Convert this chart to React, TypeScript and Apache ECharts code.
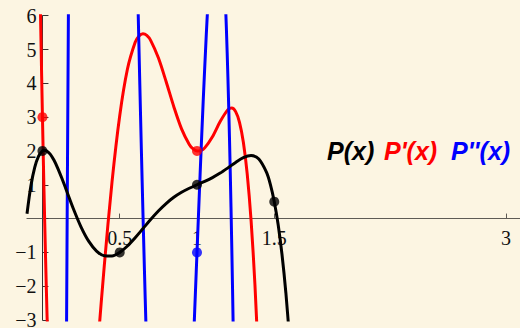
import React, { useEffect, useRef } from "react";
import * as echarts from "echarts";

// P(x)
const pCurve: [number, number][] = [
  [-0.1, 0.144], [-0.075, 0.963], [-0.05, 1.516], [-0.025, 1.848], [0, 2.0],
  [0.0125, 2.02], [0.025, 2.009], [0.05, 1.907], [0.075, 1.723], [0.1, 1.48],
  [0.125, 1.199], [0.15, 0.898], [0.2, 0.292], [0.25, -0.25], [0.3, -0.675],
  [0.35, -0.96], [0.4, -1.099], [0.45, -1.105], [0.5, -1.0], [0.55, -0.811],
  [0.6, -0.568], [0.65, -0.299], [0.7, -0.029], [0.75, 0.223], [0.8, 0.444],
  [0.85, 0.628], [0.9, 0.776], [0.95, 0.896], [1.0, 1.0], [1.05, 1.101],
  [1.1, 1.213], [1.15, 1.345], [1.2, 1.499], [1.25, 1.661], [1.3, 1.801],
  [1.35, 1.863], [1.4, 1.759], [1.45, 1.363], [1.475, 1.003], [1.5, 0.5],
  [1.525, -0.177], [1.55, -1.062], [1.575, -2.194], [1.6, -3.618],
];

// P'(x), two visible pieces
const dpCurveLeft: [number, number][] = [
  [-0.02, 8.02], [-0.01, 5.39], [0, 3.0], [0.01, 0.82], [0.02, -1.14], [0.03, -2.91], [0.04, -4.5],
];
const dpCurveRight: [number, number][] = [
  [0.35, -4.223], [0.36, -3.64], [0.4, -1.397], [0.45, 1.077], [0.5, 3.042],
  [0.55, 4.422], [0.6, 5.213], [0.625, 5.402], [0.65, 5.465], [0.675, 5.417],
  [0.7, 5.271], [0.75, 4.754], [0.8, 4.053], [0.85, 3.309], [0.9, 2.654],
  [0.95, 2.194], [0.975, 2.061], [1.0, 2.0], [1.025, 2.011], [1.05, 2.091],
  [1.1, 2.421], [1.15, 2.869], [1.2, 3.222], [1.225, 3.268], [1.25, 3.163],
  [1.275, 2.848], [1.3, 2.257], [1.325, 1.315], [1.35, -0.061], [1.375, -1.964],
  [1.4, -4.499],
];

// P''(x), four visible pieces
const d2pCurve1: [number, number][] = [[0.15, -8.12], [0.16, 0.085], [0.17, 7.633]];
const d2pCurve2: [number, number][] = [
  [0.61, 8.039], [0.62, 5.966], [0.63, 3.965], [0.64, 2.044], [0.65, 0.207],
  [0.66, -1.541], [0.67, -3.195], [0.68, -4.752],
];
const d2pCurve3: [number, number][] = [
  [0.97, -4.47], [0.98, -3.322], [0.99, -2.162], [1.0, -1.0], [1.02, 1.291],
  [1.04, 3.465], [1.06, 5.432], [1.07, 6.306],
];
const d2pCurve4: [number, number][] = [
  [1.17, 7.75], [1.18, 6.827], [1.19, 5.643], [1.2, 4.179], [1.21, 2.417],
  [1.22, 0.338], [1.23, -2.076], [1.24, -4.847],
];

// marked points
const pPoints: [number, number][] = [[0, 2], [0.5, -1], [1, 1], [1.5, 0.5]];
const dpPoints: [number, number][] = [[0, 3], [1, 2]];
const d2pPoints: [number, number][] = [[1, -1]];

const xTickValues = [0.5, 1, 1.5, 3];
const yTickValues = [-3, -2, -1, 1, 2, 3, 4, 5, 6];
const legendLabels = ["P(x)", "P'(x)", "P''(x)"];
const legendColors = ["#000000", "#ff0000", "#0000ff"];

const BLACK = "#000000";
const RED = "#ff0000";
const BLUE = "#0000ff";

const X_MIN = -0.1;
const X_MAX = 3.09;
const Y_MIN = -3;
const Y_MAX = 6;
const GRID = { left: 27, right: 0, top: 15.7, bottom: 8 };
const W = 520;
const H = 328;

function lineSeries(data: [number, number][], color: string, z: number) {
  return {
    type: "line",
    data,
    symbol: "none",
    showSymbol: false,
    smooth: 0.3,
    clip: true,
    silent: true,
    z,
    lineStyle: { color, width: 3 },
  };
}

function dotSeries(data: [number, number][], color: string) {
  return {
    type: "scatter",
    data,
    symbol: "circle",
    symbolSize: 10,
    silent: true,
    z: 10,
    itemStyle: { color },
  };
}

export default function App() {
  const ref = useRef<HTMLDivElement>(null);
  useEffect(() => {
    document.body.style.margin = "0";
    const chart = echarts.init(ref.current!, null, { renderer: "svg" });
    const gw = W - GRID.left - GRID.right;
    const gh = H - GRID.top - GRID.bottom;
    // place the axes through the origin (offset from grid edges)
    const yAxisOffset = -((0 - X_MIN) / (X_MAX - X_MIN)) * gw;
    const xAxisOffset = -((0 - Y_MIN) / (Y_MAX - Y_MIN)) * gh;
    const legendX = [327, 384, 451];
    chart.setOption({
      animation: false,
      backgroundColor: "#fcf5e2",
      grid: { ...GRID, containLabel: false, outerBoundsMode: "none" },
      xAxis: {
        type: "value",
        min: X_MIN,
        max: X_MAX,
        position: "bottom",
        offset: xAxisOffset,
        axisLine: { onZero: false, lineStyle: { color: "#5e5b55", width: 1.2 } },
        axisTick: { show: true, inside: true, length: 5, customValues: xTickValues, lineStyle: { color: "#5e5b55" } },
        axisLabel: {
          customValues: xTickValues,
          margin: 9,
          color: "#111",
          fontFamily: "'Liberation Serif', 'Times New Roman', serif",
          fontSize: 20,
          formatter: (v: number) => String(v),
        },
        splitLine: { show: false },
      },
      yAxis: {
        type: "value",
        min: Y_MIN,
        max: Y_MAX,
        interval: 1,
        position: "left",
        offset: yAxisOffset,
        axisLine: { show: true, onZero: false, lineStyle: { color: "#333", width: 1 } },
        axisTick: { show: true, inside: true, length: 6, lineStyle: { color: "#333" } },
        axisLabel: {
          customValues: yTickValues,
          margin: 6,
          color: "#111",
          fontFamily: "'Liberation Serif', 'Times New Roman', serif",
          fontSize: 20,
          formatter: (v: number) => (v < 0 ? "\u2212" + Math.abs(v) : String(v)),
        },
        splitLine: { show: false },
      },
      graphic: legendLabels.map((t, i) => ({
        type: "text",
        x: legendX[i],
        y: 151,
        silent: true,
        style: {
          text: t,
          fill: legendColors[i],
          font: "italic bold 25px 'Liberation Sans', Arial, sans-serif",
          verticalAlign: "middle",
          align: "left",
        },
      })),
      series: [
        lineSeries(dpCurveLeft, RED, 2),
        lineSeries(dpCurveRight, RED, 2),
        lineSeries(d2pCurve1, BLUE, 3),
        lineSeries(d2pCurve2, BLUE, 3),
        lineSeries(d2pCurve3, BLUE, 3),
        lineSeries(d2pCurve4, BLUE, 3),
        lineSeries(pCurve, BLACK, 4),
        dotSeries(pPoints, BLACK),
        dotSeries(dpPoints, RED),
        dotSeries(d2pPoints, BLUE),
      ],
    });
    return () => chart.dispose();
  }, []);
  return <div ref={ref} style={{ position: "absolute", left: 0, top: 0, width: W, height: H }} />;
}
